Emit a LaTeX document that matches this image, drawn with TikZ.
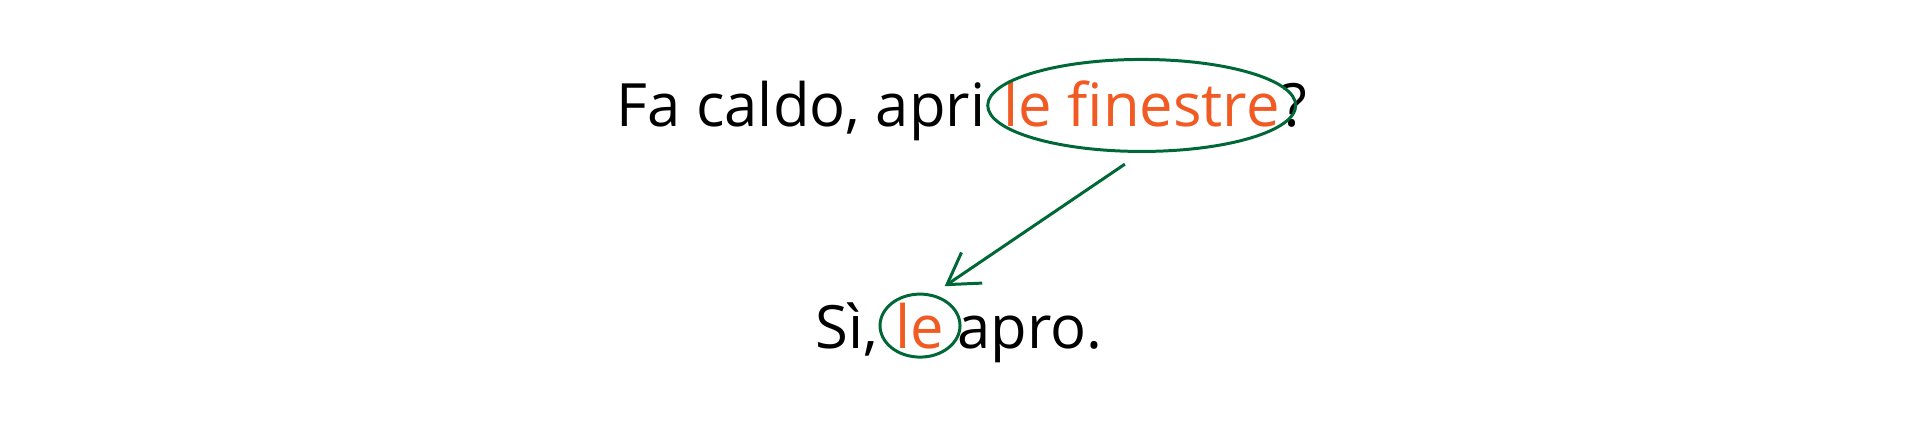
\documentclass[tikz,border=0pt]{standalone}
\usepackage{xcolor}
\usepackage{fontspec}
\setmainfont{Open Sans}
\usepackage{tikz}
\usetikzlibrary{calc}
\usetikzlibrary{arrows.meta}
\usetikzlibrary{shapes}
\usetikzlibrary{positioning}
\usetikzlibrary{shapes.geometric}
\definecolor{orng}{RGB}{241,90,34}
\definecolor{grn}{RGB}{0,104,55}
\tikzset{>={Straight Barb[length=3mm, width=3.7mm]}}
\tikzstyle{txt} = [draw=none, inner sep=0, anchor=base west, font=\fontsize{17}{20}\selectfont]
\tikzstyle{ring} = [ellipse, draw=grn, line width=0.85pt, inner sep=0, outer sep=0.13cm]

\begin{document}
\begin{tikzpicture}
\useasboundingbox (0,0) rectangle (19.2,4.29);
%\node [draw=none, align=center] at (9.6,4) {question};
\node [txt] (Q1) at (6.16, 3.03) {Fa caldo, apri};
\node [txt, text=orng] (Q2) at (10.03, 3.03) {le finestre};
\node [txt] (Q3) at (Q2.base east) {?};
\node [ring, minimum width=3.08cm, minimum height=0.92cm] (E1) at ($(Q2.center)+(0,-0.02)$) {};
\node [txt] (A1) at (8.15, 0.81) {Sì,};
\node [txt, text=orng] (A2) at (8.95, 0.81) {le};
\node [txt] (A3) at (9.57, 0.81) {apro.};
\node [ring, minimum width=0.8cm, minimum height=0.63cm] (E2) at (A2.center) {};
\draw [->, draw=grn, line width=0.85pt] (E1.254) to (E2.58);
\end{tikzpicture}
\end{document}
